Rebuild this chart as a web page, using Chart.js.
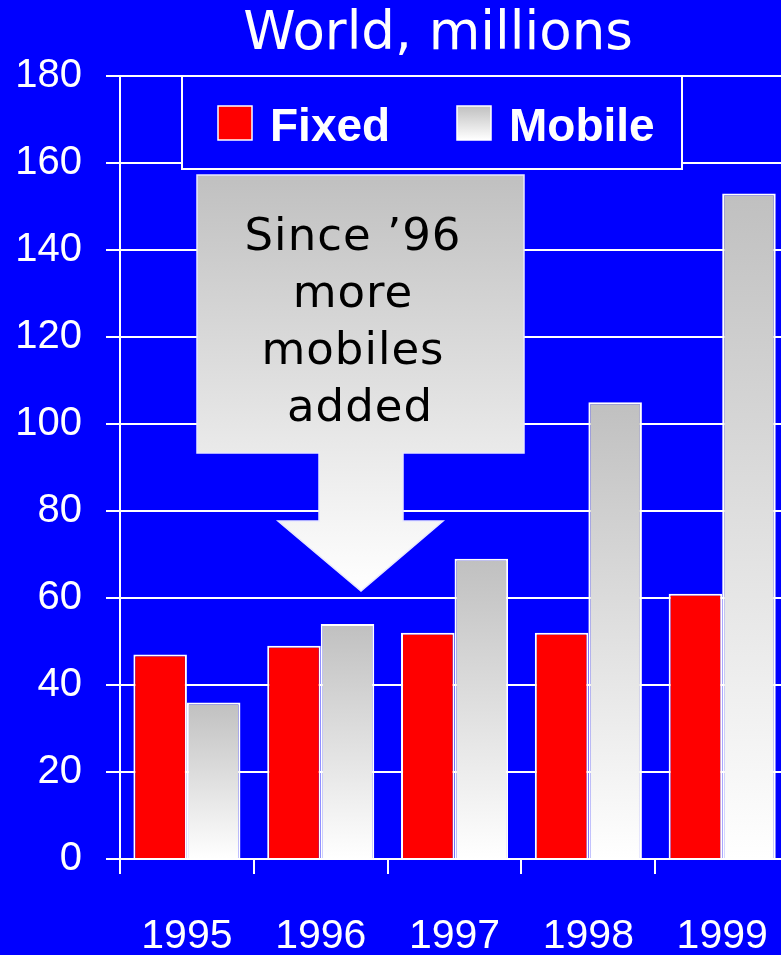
<!DOCTYPE html>
<html>
<head>
<meta charset="utf-8">
<title>World, millions</title>
<script src="https://cdn.jsdelivr.net/npm/chart.js@4.4.1/dist/chart.umd.min.js"></script>
<style>
  html, body { margin: 0; padding: 0; background: #0000ff; overflow: hidden; }
  #wrap { width: 806px; height: 955px; }
</style>
</head>
<body>
<div id="wrap"><canvas id="lines" width="806" height="955"></canvas></div>
<script>
// ===== Data =====
const years = ['1995', '1996', '1997', '1998', '1999'];
const fixedLines = [47, 49, 52, 52, 61];
const mobileLines = [36, 54, 69, 105, 153];
const yMin = 0, yMax = 180, yStep = 20;

const titleText = 'World, millions';
const calloutText = ['Since \u201996', 'more', 'mobiles', 'added'];

const BLUE = '#0000ff';
const RED = '#ff0000';
const WHITE = '#ffffff';
const GREY = '#c0c0c0';

// grey at the top of each bar fading to white at the base
function mobileFill(context) {
    const chart = context.chart;
    if (!chart.chartArea || context.raw === undefined) return GREY;
    const y = chart.scales.y;
    const top = y.getPixelForValue(context.raw);
    const base = y.getPixelForValue(0);
    const g = chart.ctx.createLinearGradient(0, top, 0, base);
    g.addColorStop(0, GREY);
    g.addColorStop(1, WHITE);
    return g;
}

// ===== Title, boxed legend and arrow callout =====
const decorations = {
    id: 'decorations',
    afterDraw(chart) {
        const c = chart.ctx;
        c.save();

        // title
        c.fillStyle = WHITE;
        c.font = '53px "DejaVu Sans"';
        c.textAlign = 'center';
        c.textBaseline = 'alphabetic';
        c.fillText(titleText, 438, 49);

        // legend box
        c.fillStyle = BLUE;
        c.fillRect(182, 76, 500, 93);
        c.strokeStyle = WHITE;
        c.lineWidth = 2;
        c.strokeRect(182, 76, 500, 93);

        const items = chart.data.datasets;
        const swatchX = [218, 457];
        const labelX = [270, 509];
        items.forEach((ds, i) => {
            const sx = swatchX[i], sy = 106, s = 34;
            if (i === 0) {
                c.fillStyle = RED;
            } else {
                const g = c.createLinearGradient(0, sy, 0, sy + s);
                g.addColorStop(0, GREY);
                g.addColorStop(1, WHITE);
                c.fillStyle = g;
            }
            c.fillRect(sx, sy, s, s);
            c.strokeStyle = WHITE;
            c.lineWidth = 1.5;
            c.strokeRect(sx, sy, s, s);

            c.fillStyle = WHITE;
            c.font = 'bold 46px "Liberation Sans"';
            c.textAlign = 'left';
            c.fillText(ds.label, labelX[i], 141);
        });

        // arrow callout
        const pts = [
            [197, 175], [524, 175], [524, 453], [403, 453], [403, 521],
            [443, 521], [361, 591], [278, 521], [319, 521], [319, 453], [197, 453]
        ];
        const g = c.createLinearGradient(0, 175, 0, 591);
        g.addColorStop(0, GREY);
        g.addColorStop(1, WHITE);
        c.beginPath();
        pts.forEach(([x, y], i) => (i ? c.lineTo(x, y) : c.moveTo(x, y)));
        c.closePath();
        c.fillStyle = g;
        c.fill();
        c.strokeStyle = '#e8e8ff';
        c.lineWidth = 1.5;
        c.stroke();

        c.fillStyle = '#000000';
        c.font = '45px "DejaVu Sans"';
        c.letterSpacing = '1px';
        c.textAlign = 'center';
        calloutText.forEach((line, i) => {
            c.fillText(line, i === 3 ? 360 : 353, 250 + i * 57);
        });

        c.restore();
    }
};

// ===== Bar chart =====
const ctx = document.getElementById('lines').getContext('2d');
const phoneChart = new Chart(ctx, {
    type: 'bar',
    data: {
        labels: years,
        datasets: [
            {
                label: 'Fixed',
                data: fixedLines,
                backgroundColor: RED,
                borderColor: WHITE,
                borderWidth: 2
            },
            {
                label: 'Mobile',
                data: mobileLines,
                backgroundColor: mobileFill,
                borderColor: WHITE,
                borderWidth: 2
            }
        ]
    },
    options: {
        responsive: false,
        animation: false,
        layout: { padding: { top: 76, right: 2, left: 0, bottom: 0 } },
        datasets: {
            bar: { categoryPercentage: 0.8, barPercentage: 1.0 }
        },
        plugins: {
            legend: { display: false },
            title: { display: false },
            tooltip: { enabled: false }
        },
        scales: {
            x: {
                afterFit: scale => { scale.height = 96; },
                grid: {
                    offset: true,
                    drawOnChartArea: false,
                    drawTicks: true,
                    tickLength: 15,
                    color: WHITE,
                    lineWidth: 2
                },
                border: { display: true, color: WHITE, width: 2 },
                ticks: {
                    color: WHITE,
                    padding: 38,
                    maxRotation: 0,
                    font: { family: 'Liberation Sans', size: 41 }
                }
            },
            y: {
                min: yMin,
                max: yMax,
                afterFit: scale => { scale.width = 120; },
                grid: {
                    color: WHITE,
                    lineWidth: 2,
                    drawTicks: true,
                    tickLength: 14
                },
                border: { display: true, color: WHITE, width: 2 },
                ticks: {
                    stepSize: yStep,
                    color: WHITE,
                    padding: 24,
                    font: { family: 'Liberation Sans', size: 40 }
                }
            }
        }
    },
    plugins: [decorations]
});
</script>
</body>
</html>
